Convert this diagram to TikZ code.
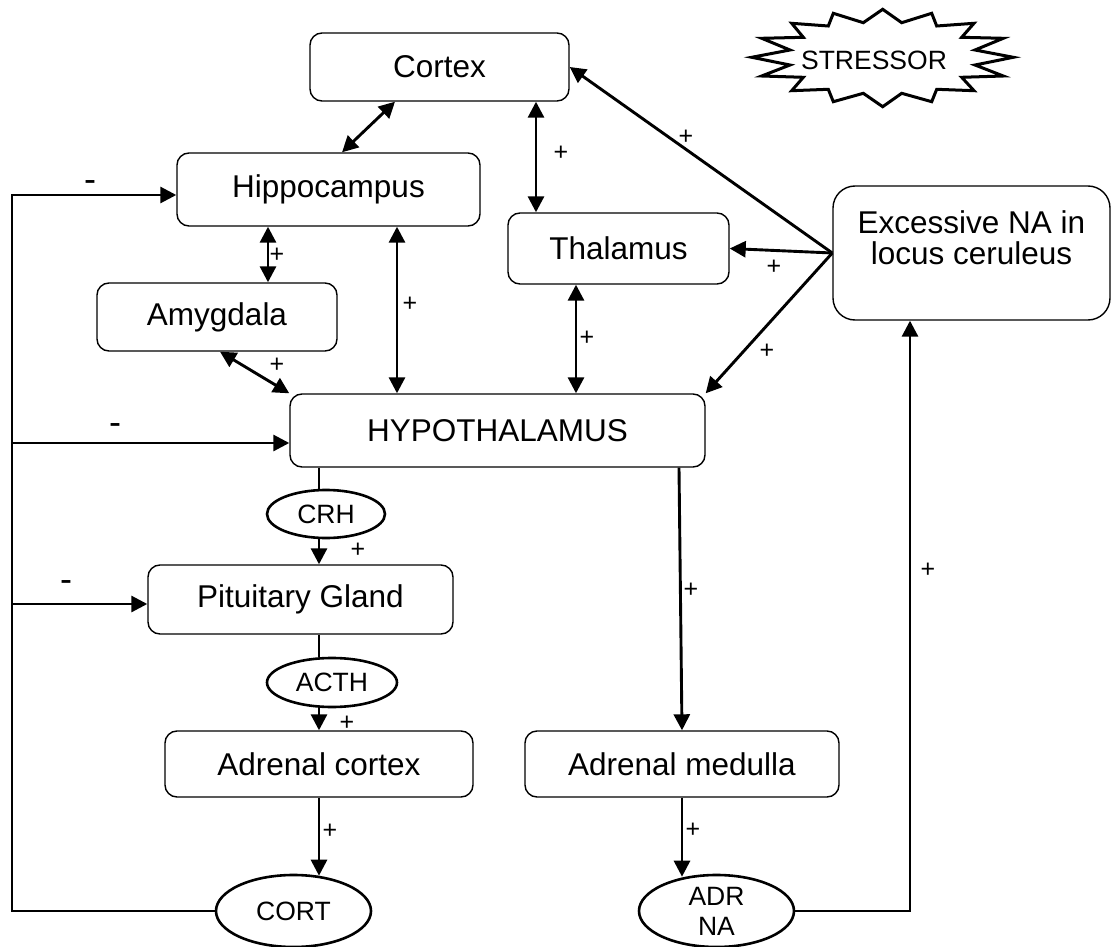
\documentclass[tikz,border=0pt]{standalone}
\usepackage{fontspec}
\setmainfont{Liberation Sans}
\usetikzlibrary{arrows.meta,shapes.geometric}
\begin{document}
\begin{tikzpicture}[x=1pt,y=-1pt,
  box/.style={draw, line width=1.4pt, rounded corners=12pt, inner sep=0pt, align=center,
    font=\fontsize{31.5}{31}\selectfont},
  oval/.style={draw, ellipse, line width=2.6pt, inner sep=0pt, align=center,
    font=\fontsize{26.5}{30}\selectfont},
  conn/.style={line width=2.9pt},
  arr/.style={conn, -{Triangle[length=16pt,width=16pt]}},
  biarr/.style={conn, {Triangle[length=16pt,width=16pt]}-{Triangle[length=16pt,width=16pt]}},
  lab/.style={font=\fontsize{25}{28}\selectfont, inner sep=0pt},
  neg/.style={font=\fontsize{36}{40}\selectfont, inner sep=0pt}]
\useasboundingbox (0,0) rectangle (1112,947);

% boxes
\node[box, minimum width=259pt, minimum height=68pt] (cortex) at (439.5,67) {Cortex};
\node[box, minimum width=303pt, minimum height=73pt] (hippo) at (328.5,189.5) {Hippocampus};
\node[box, minimum width=221pt, minimum height=71pt] (thal) at (618.5,248.5) {Thalamus};
\node[box, rounded corners=22pt, minimum width=277pt, minimum height=134pt] (na) at (971.5,253) {Excessive NA in\\locus ceruleus\\\mbox{}};
\node[box, minimum width=240pt, minimum height=68pt] (amyg) at (217,317) {Amygdala};
\node[box, minimum width=415pt, minimum height=73pt] (hypo) at (497.5,430.5) {HYPOTHALAMUS};
\node[box, minimum width=305pt, minimum height=69pt] (pit) at (300.5,599.5) {Pituitary Gland};
\node[box, minimum width=308pt, minimum height=66pt] (adrc) at (319,764) {Adrenal cortex};
\node[box, minimum width=314pt, minimum height=66pt] (adrm) at (682,764) {Adrenal medulla};

% ovals
\node[oval, minimum width=118pt, minimum height=48pt] (crh) at (326,514) {CRH};
\node[oval, minimum width=130pt, minimum height=49pt] (acth) at (332,682.5) {ACTH};
\node[oval, minimum width=155pt, minimum height=72pt] (cort) at (293.5,911) {CORT};
\node[oval, minimum width=155pt, minimum height=72pt] (adrna) at (716.5,911) {ADR\\NA};

% stressor
\draw[line width=3pt, line join=miter]
  (882.7,9.3) -- (901.7,22.7) -- (931.7,13.3) -- (936.7,26) -- (974,23.3) -- (961.7,37.3)
  -- (1003.3,38.3) -- (975,50) -- (1013.3,57.3) -- (975,65) -- (1003.3,76) -- (961.7,77.3)
  -- (974,90.7) -- (936.7,89.3) -- (931.7,101.7) -- (901.7,93.3) -- (882.7,106.7)
  -- (863.3,93.3) -- (833.3,101.7) -- (828.3,89.3) -- (791.7,90.7) -- (803.3,77.3)
  -- (761.7,76) -- (790,65) -- (751.7,57.3) -- (790,50) -- (761.7,38.3) -- (803.3,37.3)
  -- (791.7,23.3) -- (828.3,26) -- (833.3,13.3) -- (863.3,22.7) -- cycle;
\node[font=\fontsize{26.5}{30}\selectfont, inner sep=0pt] (stressor) at (874,60) {STRESSOR};

% connectors among brain regions
\draw[biarr] ([xshift=-44.5pt]cortex.south) -- ([xshift=13.5pt]hippo.north);
\draw[biarr] ([xshift=96.5pt]cortex.south) -- ([xshift=-82.5pt]thal.north);
\draw[biarr] ([xshift=-60.5pt]hippo.south) -- ([xshift=51pt]amyg.north);
\draw[biarr] ([xshift=68.5pt]hippo.south) -- ([xshift=-100.5pt]hypo.north);
\draw[biarr] ([xshift=3pt]amyg.south) -- (hypo.north west);
\draw[biarr] ([xshift=-42.5pt]thal.south) -- ([xshift=78.5pt]hypo.north);

% from locus ceruleus
\draw[arr] (na.west) -- (cortex.east);
\draw[arr] (na.west) -- (thal.east);
\draw[arr] (na.west) -- (hypo.north east);

% HPA axis
\draw[conn] ([xshift=-178.5pt]hypo.south) -- ([xshift=-7pt]crh.north);
\draw[arr] ([xshift=-7pt]crh.south) -- ([xshift=18.5pt]pit.north);
\draw[conn] ([xshift=18.5pt]pit.south) -- ([xshift=-13pt]acth.north);
\draw[arr] ([xshift=-13pt]acth.south) -- (adrc.north);
\draw[arr] (adrc.south) -- ([xshift=25.5pt,yshift=-2pt]cort.north);

% sympathetic branch
\draw[arr] ([xshift=181.5pt]hypo.south) -- (adrm.north);
\draw[arr] (adrm.south) -- ([xshift=-34.5pt,yshift=-3pt]adrna.north);
\draw[arr] (adrna.east) -| ([xshift=-61.5pt]na.south);

% cortisol feedback
\coordinate (fbl) at (12,0);
\coordinate (hin) at ([yshift=-5.5pt]hippo.west);
\coordinate (yin) at ([yshift=-12.5pt]hypo.west);
\coordinate (pin) at ([yshift=-4.5pt]pit.west);
\draw[arr] (cort.west) -| (fbl |- hin) -- (hin);
\draw[arr] (fbl |- yin) -- (yin);
\draw[arr] (fbl |- pin) -- (pin);

% labels
\node[neg] (m1) at (90,186) {-};
\node[neg] (m2) at (115,429) {-};
\node[neg] (m3) at (66,586) {-};
\node[lab] (p1) at (277,255) {+};
\node[lab] (p2) at (410,304) {+};
\node[lab] (p3) at (277,365) {+};
\node[lab] (p4) at (561,153) {+};
\node[lab] (p5) at (686,137) {+};
\node[lab] (p6) at (587,338) {+};
\node[lab] (p7) at (774,267) {+};
\node[lab] (p8) at (767,351) {+};
\node[lab] (p9) at (358,550) {+};
\node[lab] (p10) at (347,723) {+};
\node[lab] (p11) at (330,831) {+};
\node[lab] (p12) at (691,590) {+};
\node[lab] (p13) at (693,830) {+};
\node[lab] (p14) at (928,570) {+};
\end{tikzpicture}
\end{document}
